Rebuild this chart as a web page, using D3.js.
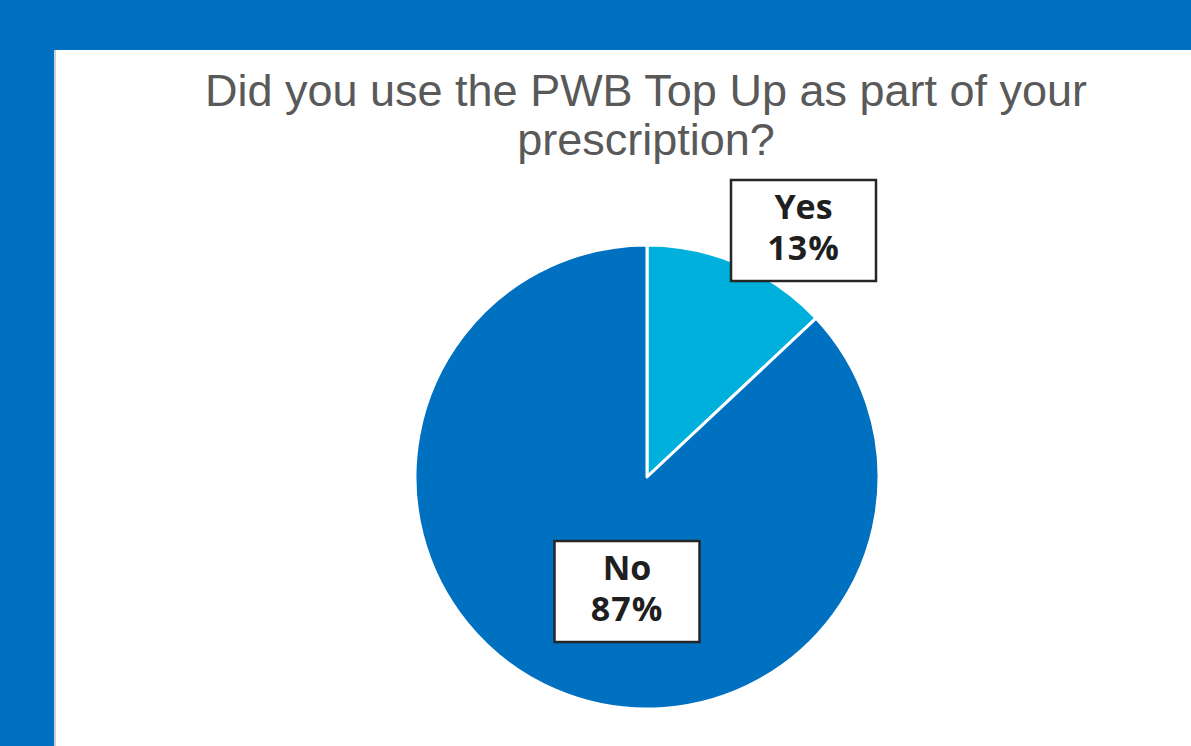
<!DOCTYPE html>
<html>
<head>
<meta charset="utf-8">
<script src="https://cdn.jsdelivr.net/npm/d3@7"></script>
<style>
  html, body { margin: 0; padding: 0; background: #0070c0; }
  svg { display: block; }
</style>
</head>
<body>
<div id="chart"></div>
<script>
var categories = ["Yes", "No"];
var values = [13, 87];
var colors = ["#00b0dc", "#0070c0"];
var titleLines = ["Did you use the PWB Top Up as part of your", "prescription?"];

var width = 1191, height = 746;
var svg = d3.select("#chart").append("svg")
  .attr("width", width).attr("height", height);

// blue frame + white panel
svg.append("rect").attr("width", width).attr("height", height).attr("fill", "#0070c0");
svg.append("rect").attr("x", 54).attr("y", 50).attr("width", 3).attr("height", height - 50).attr("fill", "#d0d0d0");
svg.append("rect").attr("x", 56).attr("y", 50).attr("width", width - 56).attr("height", height - 50).attr("fill", "#ffffff");

// title
svg.append("g").selectAll("text").data(titleLines).enter().append("text")
  .attr("x", 646)
  .attr("y", function(d, i) { return 106 + i * 49; })
  .attr("text-anchor", "middle")
  .attr("font-family", "Liberation Sans, Arial, sans-serif")
  .attr("font-size", "45px")
  .attr("fill", "#595959")
  .text(function(d) { return d; });

var cx = 647, cy = 477, radius = 232;
var data = categories.map(function(c, i) { return { name: c, value: values[i], color: colors[i] }; });

var pie = d3.pie().sort(null).value(function(d) { return d.value; });
var arc = d3.arc().innerRadius(0).outerRadius(radius);

var g = svg.append("g").attr("transform", "translate(" + cx + "," + cy + ")");
g.selectAll("path").data(pie(data)).enter().append("path")
  .attr("d", arc)
  .attr("fill", function(d) { return d.data.color; })
  .attr("stroke", "#ffffff")
  .attr("stroke-width", 3)
  .attr("stroke-linejoin", "round");

// label boxes (placed by hand, as in the original)
var labelPos = [
  { x: 803.5, y: 230.5 },
  { x: 627, y: 591.5 }
];
var boxW = 145, boxH = 101;

var lab = svg.append("g").selectAll("g").data(data).enter().append("g")
  .attr("transform", function(d, i) { return "translate(" + labelPos[i].x + "," + labelPos[i].y + ")"; });
lab.append("rect")
  .attr("x", -boxW / 2).attr("y", -boxH / 2)
  .attr("width", boxW).attr("height", boxH)
  .attr("fill", "#ffffff")
  .attr("stroke", "#262626")
  .attr("stroke-width", 2.5);
var txt = lab.append("text")
  .attr("text-anchor", "middle")
  .attr("font-family", "Open Sans, sans-serif")
  .attr("font-weight", "bold")
  .attr("font-size", "34px")
  .attr("fill", "#1f1f1f");
txt.append("tspan")
  .attr("x", 0).attr("y", -12)
  .text(function(d) { return d.name; });
txt.append("tspan")
  .attr("x", 0).attr("y", 29)
  .attr("letter-spacing", "1px")
  .text(function(d) { return d.value + "%"; });
</script>
</body>
</html>
